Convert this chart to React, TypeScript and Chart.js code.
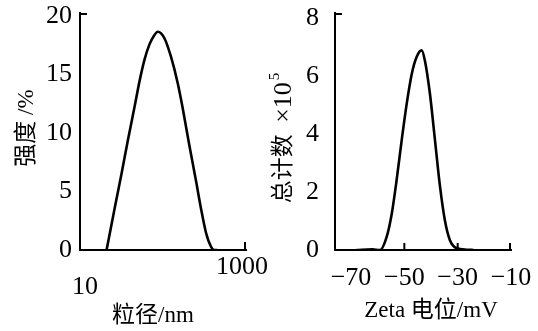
import React, { useEffect, useRef } from "react";
import { Chart, registerables } from "chart.js";

Chart.register(...registerables);

// Left panel: particle size distribution
const sizeNm = [20.9, 26.2, 31.6, 37.8, 45.6, 52.4, 60.0, 68.9, 77.5, 86.7, 104, 125, 150, 173, 207, 250, 286, 329, 378, 414, 450];
const intensityPct = [0, 3.6, 6.5, 9.4, 12.3, 14.5, 16.3, 17.6, 18.3, 18.66, 18.1, 16.5, 14.3, 12.1, 9.0, 5.9, 3.6, 1.5, 0.3, 0, 0];
const sizeTickValues = [10, 1000];
const sizeTickLabels = ["10", "1000"];
const intensityTicks = [0, 5, 10, 15, 20];

// Right panel: zeta potential distribution
const zetaMv = [-68, -62, -59.1, -56.6, -54.7, -52.9, -51.0, -49.1, -47.2, -45.4, -43.5, -42.3, -40.4, -38.5, -36.6, -34.8, -32.9, -30.4, -26.6, -24];
const totalCounts = [0, 0.02, 0, 0.46, 1.26, 2.41, 3.79, 5.06, 6.09, 6.67, 6.9, 6.55, 5.4, 3.79, 2.18, 1.03, 0.34, 0.06, 0.01, 0];
const zetaTicks = [-70, -50, -30, -10];
const countTicks = [0, 2, 4, 6, 8];

const SERIF = '"Liberation Serif", "Times New Roman", serif';
const CJK = '"Liberation Serif", "Noto Sans CJK SC", serif';

function axisBase() {
  return {
    grid: { drawOnChartArea: false, drawTicks: false },
    border: { display: true, color: "#000", width: 2 },
  };
}

function fixY(width: number) {
  return (s: any) => {
    s.width = width;
    s.paddingTop = 0;
    s.paddingBottom = 0;
  };
}
function fixX(height: number) {
  return (s: any) => {
    s.height = height;
    s.paddingLeft = 0;
    s.paddingRight = 0;
  };
}

const leftDecor = {
  id: "leftDecor",
  afterDraw(chart: any) {
    const { ctx, chartArea, scales } = chart;
    const xs = scales.x;
    ctx.save();
    ctx.strokeStyle = "#000";
    ctx.lineWidth = 2;
    ctx.beginPath();
    ctx.moveTo(chartArea.left, chartArea.top + 1);
    ctx.lineTo(chartArea.left + 7, chartArea.top + 1);
    ctx.stroke();
    const px = xs.getPixelForValue(sizeTickValues[1]);
    ctx.beginPath();
    ctx.moveTo(px - 1, chartArea.bottom);
    ctx.lineTo(px - 1, chartArea.bottom - 8);
    ctx.stroke();
    ctx.fillStyle = "#000";
    ctx.textAlign = "center";
    ctx.textBaseline = "middle";
    ctx.font = `26px ${SERIF}`;
    ctx.fillText(sizeTickLabels[0], xs.getPixelForValue(sizeTickValues[0]) + 5, 287);
    ctx.fillText(sizeTickLabels[1], xs.getPixelForValue(sizeTickValues[1]) - 4, 267);
    ctx.font = `23px ${CJK}`;
    ctx.fillText("粒径/nm", 153, 316);
    ctx.translate(27, 128);
    ctx.rotate(-Math.PI / 2);
    ctx.fillText("强度 /%", 0, 0);
    ctx.restore();
  },
};

const rightDecor = {
  id: "rightDecor",
  afterDraw(chart: any) {
    const { ctx, chartArea, scales } = chart;
    const xs = scales.x;
    ctx.save();
    ctx.strokeStyle = "#000";
    ctx.lineWidth = 2;
    ctx.beginPath();
    ctx.moveTo(chartArea.left, chartArea.top + 1);
    ctx.lineTo(chartArea.left + 7, chartArea.top + 1);
    ctx.stroke();
    zetaTicks.slice(1).forEach((v) => {
      const px = Math.min(xs.getPixelForValue(v), chartArea.right - 1);
      ctx.beginPath();
      ctx.moveTo(px, chartArea.bottom);
      ctx.lineTo(px, chartArea.bottom - 7);
      ctx.stroke();
    });
    ctx.fillStyle = "#000";
    ctx.textBaseline = "middle";
    ctx.textAlign = "center";
    ctx.font = `23px ${CJK}`;
    ctx.fillText("Zeta 电位/mV", 163, 311);
    // rotated y title with superscript
    ctx.translate(16, 138);
    ctx.rotate(-Math.PI / 2);
    const cjk = "总计数  ";
    const latin = "×10";
    const sup = "5";
    ctx.font = `23px ${CJK}`;
    const w1 = ctx.measureText(cjk).width;
    ctx.font = `26px ${SERIF}`;
    const w2 = ctx.measureText(latin).width;
    ctx.font = `15px ${SERIF}`;
    const w3 = ctx.measureText(sup).width;
    const start = -(w1 + w2 + w3 + 2) / 2;
    ctx.textAlign = "left";
    ctx.font = `23px ${CJK}`;
    ctx.fillText(cjk, start, 0);
    ctx.font = `26px ${SERIF}`;
    ctx.fillText(latin, start + w1, 0);
    ctx.font = `15px ${SERIF}`;
    ctx.fillText(sup, start + w1 + w2 + 2, -9);
    ctx.restore();
  },
};

function LeftChart() {
  const ref = useRef<HTMLCanvasElement>(null);
  useEffect(() => {
    const chart = new Chart(ref.current!, {
      type: "line",
      data: {
        datasets: [
          {
            data: sizeNm.map((x, i) => ({ x, y: intensityPct[i] })),
            borderColor: "#000",
            borderWidth: 2.6,
            pointRadius: 0,
            cubicInterpolationMode: "monotone",
            fill: false,
          },
        ],
      },
      options: {
        animation: false,
        responsive: false,
        layout: { padding: { left: 0, right: 24, top: 13, bottom: 0 } },
        plugins: { legend: { display: false }, tooltip: { enabled: false } },
        scales: {
          x: {
            type: "logarithmic",
            min: 10,
            max: 1000,
            ...axisBase(),
            ticks: { display: false },
            afterFit: fixX(81),
          },
          y: {
            type: "linear",
            min: 0,
            max: 20.26,
            ...axisBase(),
            afterBuildTicks: (s: any) => {
              s.ticks = intensityTicks.map((value) => ({ value }));
            },
            ticks: {
              color: "#000",
              padding: 8,
              font: { family: SERIF, size: 26 },
            },
            afterFit: fixY(80),
          },
        },
      },
      plugins: [leftDecor],
    } as any);
    return () => chart.destroy();
  }, []);
  return (
    <canvas
      ref={ref}
      width={270}
      height={331}
      style={{ position: "absolute", left: 0, top: 0, width: 270, height: 331 }}
    />
  );
}

function RightChart() {
  const ref = useRef<HTMLCanvasElement>(null);
  useEffect(() => {
    const chart = new Chart(ref.current!, {
      type: "line",
      data: {
        datasets: [
          {
            data: zetaMv.map((x, i) => ({ x, y: totalCounts[i] })),
            borderColor: "#000",
            borderWidth: 2.6,
            pointRadius: 0,
            cubicInterpolationMode: "monotone",
            fill: false,
          },
        ],
      },
      options: {
        animation: false,
        responsive: false,
        layout: { padding: { left: 0, right: 27, top: 13, bottom: 0 } },
        plugins: { legend: { display: false }, tooltip: { enabled: false } },
        scales: {
          x: {
            type: "linear",
            min: -76,
            max: -10,
            ...axisBase(),
            afterBuildTicks: (s: any) => {
              s.ticks = zetaTicks.map((value) => ({ value }));
            },
            ticks: {
              color: "#000",
              padding: 13,
              autoSkip: false,
              maxRotation: 0,
              font: { family: SERIF, size: 26 },
              callback: (v: any) => String(v).replace("-", "\u2212"),
            },
            afterFit: fixX(81),
          },
          y: {
            type: "linear",
            min: 0,
            max: 8.19,
            ...axisBase(),
            afterBuildTicks: (s: any) => {
              s.ticks = countTicks.map((value) => ({ value }));
            },
            ticks: {
              color: "#000",
              padding: 16,
              font: { family: SERIF, size: 26 },
            },
            afterFit: fixY(67),
          },
        },
      },
      plugins: [rightDecor],
    } as any);
    return () => chart.destroy();
  }, []);
  return (
    <canvas
      ref={ref}
      width={270}
      height={331}
      style={{ position: "absolute", left: 268, top: 0, width: 270, height: 331 }}
    />
  );
}

export default function App() {
  return (
    <div
      style={{
        position: "fixed",
        left: 0,
        top: 0,
        width: 538,
        height: 331,
        background: "#fff",
        overflow: "hidden",
      }}
    >
      <LeftChart />
      <RightChart />
    </div>
  );
}
